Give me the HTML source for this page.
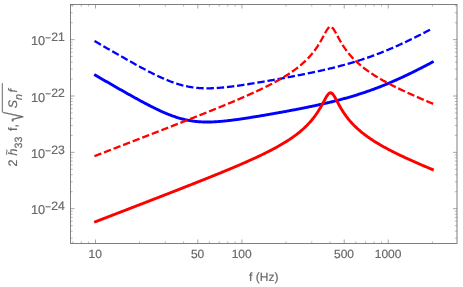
<!DOCTYPE html>
<html><head><meta charset="utf-8"><title>plot</title>
<style>html,body{margin:0;padding:0;background:#fff;}svg{display:block;}text{text-rendering:geometricPrecision;}</style></head>
<body><svg style="will-change:transform" width="463" height="287" viewBox="0 0 463 287">
<rect width="463" height="287" fill="#ffffff"/>

<g fill="none" stroke="#696969" stroke-width="0.85">
<rect x="70.5" y="4.5" width="386.5" height="239.0"/>
<path d="M95.50,243.5v-4.0M95.50,4.5v4.0M197.83,243.5v-4.0M197.83,4.5v4.0M241.90,243.5v-4.0M241.90,4.5v4.0M344.23,243.5v-4.0M344.23,4.5v4.0M388.30,243.5v-4.0M388.30,4.5v4.0M70.5,208.70h4.0M457.0,208.70h-4.0M70.5,152.35h4.0M457.0,152.35h-4.0M70.5,96.00h4.0M457.0,96.00h-4.0M70.5,39.65h4.0M457.0,39.65h-4.0" stroke-width="0.6"/>
<path d="M72.82,243.5v-2.2M72.82,4.5v2.2M81.31,243.5v-2.2M81.31,4.5v2.2M88.80,243.5v-2.2M88.80,4.5v2.2M139.57,243.5v-2.2M139.57,4.5v2.2M165.35,243.5v-2.2M165.35,4.5v2.2M183.64,243.5v-2.2M183.64,4.5v2.2M209.42,243.5v-2.2M209.42,4.5v2.2M219.22,243.5v-2.2M219.22,4.5v2.2M227.71,243.5v-2.2M227.71,4.5v2.2M235.20,243.5v-2.2M235.20,4.5v2.2M285.97,243.5v-2.2M285.97,4.5v2.2M311.75,243.5v-2.2M311.75,4.5v2.2M330.04,243.5v-2.2M330.04,4.5v2.2M355.82,243.5v-2.2M355.82,4.5v2.2M365.62,243.5v-2.2M365.62,4.5v2.2M374.11,243.5v-2.2M374.11,4.5v2.2M381.60,243.5v-2.2M381.60,4.5v2.2M432.37,243.5v-2.2M432.37,4.5v2.2M70.5,238.16h2.2M457.0,238.16h-2.2M70.5,231.12h2.2M457.0,231.12h-2.2M70.5,225.66h2.2M457.0,225.66h-2.2M70.5,221.20h2.2M457.0,221.20h-2.2M70.5,217.43h2.2M457.0,217.43h-2.2M70.5,214.16h2.2M457.0,214.16h-2.2M70.5,211.28h2.2M457.0,211.28h-2.2M70.5,191.74h2.2M457.0,191.74h-2.2M70.5,181.81h2.2M457.0,181.81h-2.2M70.5,174.77h2.2M457.0,174.77h-2.2M70.5,169.31h2.2M457.0,169.31h-2.2M70.5,164.85h2.2M457.0,164.85h-2.2M70.5,161.08h2.2M457.0,161.08h-2.2M70.5,157.81h2.2M457.0,157.81h-2.2M70.5,154.93h2.2M457.0,154.93h-2.2M70.5,135.39h2.2M457.0,135.39h-2.2M70.5,125.46h2.2M457.0,125.46h-2.2M70.5,118.42h2.2M457.0,118.42h-2.2M70.5,112.96h2.2M457.0,112.96h-2.2M70.5,108.50h2.2M457.0,108.50h-2.2M70.5,104.73h2.2M457.0,104.73h-2.2M70.5,101.46h2.2M457.0,101.46h-2.2M70.5,98.58h2.2M457.0,98.58h-2.2M70.5,79.04h2.2M457.0,79.04h-2.2M70.5,69.11h2.2M457.0,69.11h-2.2M70.5,62.07h2.2M457.0,62.07h-2.2M70.5,56.61h2.2M457.0,56.61h-2.2M70.5,52.15h2.2M457.0,52.15h-2.2M70.5,48.38h2.2M457.0,48.38h-2.2M70.5,45.11h2.2M457.0,45.11h-2.2M70.5,42.23h2.2M457.0,42.23h-2.2M70.5,22.69h2.2M457.0,22.69h-2.2M70.5,12.76h2.2M457.0,12.76h-2.2M70.5,5.72h2.2M457.0,5.72h-2.2" stroke-width="0.45"/>
</g>

<g fill="none" stroke-width="2.9" stroke-linejoin="round" stroke-linecap="square">
<path d="M95.50,75.28 L96.34,75.77 L97.19,76.26 L98.03,76.75 L98.88,77.24 L99.72,77.72 L100.57,78.21 L101.41,78.70 L102.25,79.19 L103.10,79.68 L103.94,80.16 L104.79,80.65 L105.63,81.14 L106.48,81.63 L107.32,82.11 L108.16,82.60 L109.01,83.08 L109.85,83.57 L110.70,84.06 L111.54,84.54 L112.39,85.03 L113.23,85.51 L114.07,86.00 L114.92,86.48 L115.76,86.96 L116.61,87.45 L117.45,87.93 L118.30,88.41 L119.14,88.89 L119.98,89.38 L120.83,89.86 L121.67,90.34 L122.52,90.82 L123.36,91.30 L124.21,91.77 L125.05,92.25 L125.89,92.73 L126.74,93.21 L127.58,93.68 L128.43,94.16 L129.27,94.63 L130.12,95.10 L130.96,95.57 L131.80,96.05 L132.65,96.52 L133.49,96.98 L134.34,97.45 L135.18,97.92 L136.03,98.38 L136.87,98.85 L137.71,99.31 L138.56,99.77 L139.40,100.23 L140.25,100.69 L141.09,101.15 L141.94,101.60 L142.78,102.05 L143.62,102.50 L144.47,102.95 L145.31,103.40 L146.16,103.84 L147.00,104.29 L147.85,104.73 L148.69,105.16 L149.53,105.60 L150.38,106.03 L151.22,106.46 L152.07,106.88 L152.91,107.31 L153.76,107.73 L154.60,108.14 L155.44,108.56 L156.29,108.97 L157.13,109.37 L157.98,109.77 L158.82,110.17 L159.67,110.56 L160.51,110.95 L161.35,111.34 L162.20,111.72 L163.04,112.09 L163.89,112.46 L164.73,112.83 L165.58,113.19 L166.42,113.54 L167.26,113.89 L168.11,114.23 L168.95,114.57 L169.80,114.90 L170.64,115.22 L171.49,115.54 L172.33,115.85 L173.17,116.16 L174.02,116.45 L174.86,116.74 L175.71,117.03 L176.55,117.30 L177.40,117.57 L178.24,117.83 L179.08,118.09 L179.93,118.33 L180.77,118.57 L181.62,118.80 L182.46,119.02 L183.31,119.23 L184.15,119.44 L184.99,119.64 L185.84,119.83 L186.68,120.01 L187.53,120.18 L188.37,120.35 L189.22,120.50 L190.06,120.65 L190.90,120.79 L191.75,120.92 L192.59,121.05 L193.44,121.16 L194.28,121.27 L195.13,121.37 L195.97,121.47 L196.81,121.55 L197.66,121.63 L198.50,121.70 L199.35,121.76 L200.19,121.82 L201.04,121.87 L201.88,121.91 L202.72,121.94 L203.57,121.97 L204.41,121.99 L205.26,122.01 L206.10,122.02 L206.95,122.02 L207.79,122.02 L208.63,122.01 L209.48,122.00 L210.32,121.98 L211.17,121.96 L212.01,121.93 L212.86,121.90 L213.70,121.86 L214.54,121.82 L215.39,121.77 L216.23,121.72 L217.08,121.67 L217.92,121.61 L218.77,121.54 L219.61,121.48 L220.45,121.41 L221.30,121.34 L222.14,121.26 L222.99,121.18 L223.83,121.10 L224.68,121.01 L225.52,120.92 L226.36,120.83 L227.21,120.74 L228.05,120.64 L228.90,120.55 L229.74,120.45 L230.59,120.34 L231.43,120.24 L232.27,120.13 L233.12,120.03 L233.96,119.92 L234.81,119.80 L235.65,119.69 L236.50,119.58 L237.34,119.46 L238.18,119.34 L239.03,119.22 L239.87,119.10 L240.72,118.98 L241.56,118.86 L242.41,118.73 L243.25,118.61 L244.09,118.48 L244.94,118.35 L245.78,118.22 L246.63,118.10 L247.47,117.96 L248.32,117.83 L249.16,117.70 L250.00,117.57 L250.85,117.43 L251.69,117.30 L252.54,117.16 L253.38,117.03 L254.23,116.89 L255.07,116.75 L255.91,116.62 L256.76,116.48 L257.60,116.34 L258.45,116.20 L259.29,116.06 L260.14,115.92 L260.98,115.78 L261.82,115.63 L262.67,115.49 L263.51,115.35 L264.36,115.20 L265.20,115.06 L266.05,114.91 L266.89,114.77 L267.73,114.62 L268.58,114.48 L269.42,114.33 L270.27,114.18 L271.11,114.04 L271.96,113.89 L272.80,113.74 L273.64,113.59 L274.49,113.44 L275.33,113.29 L276.18,113.14 L277.02,112.99 L277.87,112.84 L278.71,112.69 L279.55,112.54 L280.40,112.38 L281.24,112.23 L282.09,112.08 L282.93,111.92 L283.78,111.77 L284.62,111.61 L285.46,111.46 L286.31,111.30 L287.15,111.15 L288.00,110.99 L288.84,110.83 L289.69,110.67 L290.53,110.52 L291.37,110.36 L292.22,110.20 L293.06,110.04 L293.91,109.88 L294.75,109.71 L295.60,109.55 L296.44,109.39 L297.28,109.23 L298.13,109.06 L298.97,108.90 L299.82,108.73 L300.66,108.57 L301.51,108.40 L302.35,108.23 L303.19,108.06 L304.04,107.90 L304.88,107.73 L305.73,107.55 L306.57,107.38 L307.42,107.21 L308.26,107.04 L309.10,106.86 L309.95,106.69 L310.79,106.51 L311.64,106.34 L312.48,106.16 L313.33,105.98 L314.17,105.80 L315.01,105.62 L315.86,105.44 L316.70,105.26 L317.55,105.07 L318.39,104.89 L319.24,104.70 L320.08,104.52 L320.92,104.33 L321.77,104.14 L322.61,103.95 L323.46,103.76 L324.30,103.56 L325.15,103.37 L325.99,103.17 L326.83,102.98 L327.68,102.78 L328.52,102.58 L329.37,102.38 L330.21,102.18 L331.06,101.97 L331.90,101.77 L332.74,101.56 L333.59,101.35 L334.43,101.14 L335.28,100.93 L336.12,100.72 L336.97,100.50 L337.81,100.29 L338.65,100.07 L339.50,99.85 L340.34,99.63 L341.19,99.40 L342.03,99.18 L342.88,98.95 L343.72,98.72 L344.56,98.49 L345.41,98.26 L346.25,98.02 L347.10,97.78 L347.94,97.54 L348.79,97.30 L349.63,97.06 L350.47,96.81 L351.32,96.57 L352.16,96.32 L353.01,96.07 L353.85,95.81 L354.70,95.56 L355.54,95.30 L356.38,95.04 L357.23,94.77 L358.07,94.51 L358.92,94.24 L359.76,93.97 L360.61,93.70 L361.45,93.43 L362.29,93.15 L363.14,92.87 L363.98,92.59 L364.83,92.30 L365.67,92.02 L366.52,91.73 L367.36,91.44 L368.20,91.14 L369.05,90.85 L369.89,90.55 L370.74,90.25 L371.58,89.94 L372.43,89.64 L373.27,89.33 L374.11,89.02 L374.96,88.70 L375.80,88.39 L376.65,88.07 L377.49,87.74 L378.34,87.42 L379.18,87.09 L380.02,86.77 L380.87,86.43 L381.71,86.10 L382.56,85.76 L383.40,85.42 L384.25,85.08 L385.09,84.74 L385.93,84.39 L386.78,84.04 L387.62,83.69 L388.47,83.34 L389.31,82.98 L390.16,82.62 L391.00,82.26 L391.84,81.90 L392.69,81.53 L393.53,81.16 L394.38,80.79 L395.22,80.42 L396.07,80.05 L396.91,79.67 L397.75,79.29 L398.60,78.91 L399.44,78.52 L400.29,78.14 L401.13,77.75 L401.98,77.36 L402.82,76.97 L403.67,76.57 L404.51,76.18 L405.35,75.78 L406.20,75.38 L407.04,74.98 L407.89,74.57 L408.73,74.17 L409.58,73.76 L410.42,73.35 L411.26,72.94 L412.11,72.52 L412.95,72.11 L413.80,71.69 L414.64,71.27 L415.49,70.85 L416.33,70.43 L417.17,70.01 L418.02,69.58 L418.86,69.16 L419.71,68.73 L420.55,68.30 L421.40,67.87 L422.24,67.44 L423.08,67.00 L423.93,66.57 L424.77,66.13 L425.62,65.69 L426.46,65.25 L427.31,64.81 L428.15,64.37 L428.99,63.93 L429.84,63.48 L430.68,63.04 L431.53,62.59 L432.37,62.14" stroke="#0000ff"/>
<path d="M95.50,41.58 L96.34,42.07 L97.19,42.56 L98.03,43.05 L98.88,43.54 L99.72,44.02 L100.57,44.51 L101.41,45.00 L102.25,45.49 L103.10,45.98 L103.94,46.46 L104.79,46.95 L105.63,47.44 L106.48,47.93 L107.32,48.41 L108.16,48.90 L109.01,49.38 L109.85,49.87 L110.70,50.36 L111.54,50.84 L112.39,51.33 L113.23,51.81 L114.07,52.30 L114.92,52.78 L115.76,53.26 L116.61,53.75 L117.45,54.23 L118.30,54.71 L119.14,55.19 L119.98,55.68 L120.83,56.16 L121.67,56.64 L122.52,57.12 L123.36,57.60 L124.21,58.07 L125.05,58.55 L125.89,59.03 L126.74,59.51 L127.58,59.98 L128.43,60.46 L129.27,60.93 L130.12,61.40 L130.96,61.87 L131.80,62.35 L132.65,62.82 L133.49,63.28 L134.34,63.75 L135.18,64.22 L136.03,64.68 L136.87,65.15 L137.71,65.61 L138.56,66.07 L139.40,66.53 L140.25,66.99 L141.09,67.45 L141.94,67.90 L142.78,68.35 L143.62,68.80 L144.47,69.25 L145.31,69.70 L146.16,70.14 L147.00,70.59 L147.85,71.03 L148.69,71.46 L149.53,71.90 L150.38,72.33 L151.22,72.76 L152.07,73.18 L152.91,73.61 L153.76,74.03 L154.60,74.44 L155.44,74.86 L156.29,75.27 L157.13,75.67 L157.98,76.07 L158.82,76.47 L159.67,76.86 L160.51,77.25 L161.35,77.64 L162.20,78.02 L163.04,78.39 L163.89,78.76 L164.73,79.13 L165.58,79.49 L166.42,79.84 L167.26,80.19 L168.11,80.53 L168.95,80.87 L169.80,81.20 L170.64,81.52 L171.49,81.84 L172.33,82.15 L173.17,82.46 L174.02,82.75 L174.86,83.04 L175.71,83.33 L176.55,83.60 L177.40,83.87 L178.24,84.13 L179.08,84.39 L179.93,84.63 L180.77,84.87 L181.62,85.10 L182.46,85.32 L183.31,85.53 L184.15,85.74 L184.99,85.94 L185.84,86.13 L186.68,86.31 L187.53,86.48 L188.37,86.65 L189.22,86.80 L190.06,86.95 L190.90,87.09 L191.75,87.22 L192.59,87.35 L193.44,87.46 L194.28,87.57 L195.13,87.67 L195.97,87.77 L196.81,87.85 L197.66,87.93 L198.50,88.00 L199.35,88.06 L200.19,88.12 L201.04,88.17 L201.88,88.21 L202.72,88.24 L203.57,88.27 L204.41,88.29 L205.26,88.31 L206.10,88.32 L206.95,88.32 L207.79,88.32 L208.63,88.31 L209.48,88.30 L210.32,88.28 L211.17,88.26 L212.01,88.23 L212.86,88.20 L213.70,88.16 L214.54,88.12 L215.39,88.07 L216.23,88.02 L217.08,87.97 L217.92,87.91 L218.77,87.84 L219.61,87.78 L220.45,87.71 L221.30,87.64 L222.14,87.56 L222.99,87.48 L223.83,87.40 L224.68,87.31 L225.52,87.22 L226.36,87.13 L227.21,87.04 L228.05,86.94 L228.90,86.85 L229.74,86.75 L230.59,86.64 L231.43,86.54 L232.27,86.43 L233.12,86.33 L233.96,86.22 L234.81,86.10 L235.65,85.99 L236.50,85.88 L237.34,85.76 L238.18,85.64 L239.03,85.52 L239.87,85.40 L240.72,85.28 L241.56,85.16 L242.41,85.03 L243.25,84.91 L244.09,84.78 L244.94,84.65 L245.78,84.52 L246.63,84.40 L247.47,84.26 L248.32,84.13 L249.16,84.00 L250.00,83.87 L250.85,83.73 L251.69,83.60 L252.54,83.46 L253.38,83.33 L254.23,83.19 L255.07,83.05 L255.91,82.92 L256.76,82.78 L257.60,82.64 L258.45,82.50 L259.29,82.36 L260.14,82.22 L260.98,82.08 L261.82,81.93 L262.67,81.79 L263.51,81.65 L264.36,81.50 L265.20,81.36 L266.05,81.21 L266.89,81.07 L267.73,80.92 L268.58,80.78 L269.42,80.63 L270.27,80.48 L271.11,80.34 L271.96,80.19 L272.80,80.04 L273.64,79.89 L274.49,79.74 L275.33,79.59 L276.18,79.44 L277.02,79.29 L277.87,79.14 L278.71,78.99 L279.55,78.84 L280.40,78.68 L281.24,78.53 L282.09,78.38 L282.93,78.22 L283.78,78.07 L284.62,77.91 L285.46,77.76 L286.31,77.60 L287.15,77.45 L288.00,77.29 L288.84,77.13 L289.69,76.97 L290.53,76.82 L291.37,76.66 L292.22,76.50 L293.06,76.34 L293.91,76.18 L294.75,76.01 L295.60,75.85 L296.44,75.69 L297.28,75.53 L298.13,75.36 L298.97,75.20 L299.82,75.03 L300.66,74.87 L301.51,74.70 L302.35,74.53 L303.19,74.36 L304.04,74.20 L304.88,74.03 L305.73,73.85 L306.57,73.68 L307.42,73.51 L308.26,73.34 L309.10,73.16 L309.95,72.99 L310.79,72.81 L311.64,72.64 L312.48,72.46 L313.33,72.28 L314.17,72.10 L315.01,71.92 L315.86,71.74 L316.70,71.56 L317.55,71.37 L318.39,71.19 L319.24,71.00 L320.08,70.82 L320.92,70.63 L321.77,70.44 L322.61,70.25 L323.46,70.06 L324.30,69.86 L325.15,69.67 L325.99,69.47 L326.83,69.28 L327.68,69.08 L328.52,68.88 L329.37,68.68 L330.21,68.48 L331.06,68.27 L331.90,68.07 L332.74,67.86 L333.59,67.65 L334.43,67.44 L335.28,67.23 L336.12,67.02 L336.97,66.80 L337.81,66.59 L338.65,66.37 L339.50,66.15 L340.34,65.93 L341.19,65.70 L342.03,65.48 L342.88,65.25 L343.72,65.02 L344.56,64.79 L345.41,64.56 L346.25,64.32 L347.10,64.08 L347.94,63.84 L348.79,63.60 L349.63,63.36 L350.47,63.11 L351.32,62.87 L352.16,62.62 L353.01,62.37 L353.85,62.11 L354.70,61.86 L355.54,61.60 L356.38,61.34 L357.23,61.07 L358.07,60.81 L358.92,60.54 L359.76,60.27 L360.61,60.00 L361.45,59.73 L362.29,59.45 L363.14,59.17 L363.98,58.89 L364.83,58.60 L365.67,58.32 L366.52,58.03 L367.36,57.74 L368.20,57.44 L369.05,57.15 L369.89,56.85 L370.74,56.55 L371.58,56.24 L372.43,55.94 L373.27,55.63 L374.11,55.32 L374.96,55.00 L375.80,54.69 L376.65,54.37 L377.49,54.04 L378.34,53.72 L379.18,53.39 L380.02,53.07 L380.87,52.73 L381.71,52.40 L382.56,52.06 L383.40,51.72 L384.25,51.38 L385.09,51.04 L385.93,50.69 L386.78,50.34 L387.62,49.99 L388.47,49.64 L389.31,49.28 L390.16,48.92 L391.00,48.56 L391.84,48.20 L392.69,47.83 L393.53,47.46 L394.38,47.09 L395.22,46.72 L396.07,46.35 L396.91,45.97 L397.75,45.59 L398.60,45.21 L399.44,44.82 L400.29,44.44 L401.13,44.05 L401.98,43.66 L402.82,43.27 L403.67,42.87 L404.51,42.48 L405.35,42.08 L406.20,41.68 L407.04,41.28 L407.89,40.87 L408.73,40.47 L409.58,40.06 L410.42,39.65 L411.26,39.24 L412.11,38.82 L412.95,38.41 L413.80,37.99 L414.64,37.57 L415.49,37.15 L416.33,36.73 L417.17,36.31 L418.02,35.88 L418.86,35.46 L419.71,35.03 L420.55,34.60 L421.40,34.17 L422.24,33.74 L423.08,33.30 L423.93,32.87 L424.77,32.43 L425.62,31.99 L426.46,31.55 L427.31,31.11 L428.15,30.67 L428.99,30.23 L429.84,29.78 L430.68,29.34 L431.53,28.89 L432.37,28.44" stroke="#0000ff" stroke-width="2.3" stroke-dasharray="5.125 5.125"/>
<path d="M95.50,221.73 L96.34,221.40 L97.19,221.08 L98.03,220.75 L98.88,220.43 L99.72,220.10 L100.57,219.78 L101.41,219.45 L102.25,219.12 L103.10,218.80 L103.94,218.47 L104.79,218.15 L105.63,217.82 L106.48,217.50 L107.32,217.17 L108.16,216.85 L109.01,216.52 L109.85,216.19 L110.70,215.87 L111.54,215.54 L112.39,215.22 L113.23,214.89 L114.07,214.57 L114.92,214.24 L115.76,213.92 L116.61,213.59 L117.45,213.26 L118.30,212.94 L119.14,212.61 L119.98,212.29 L120.83,211.96 L121.67,211.63 L122.52,211.31 L123.36,210.98 L124.21,210.66 L125.05,210.33 L125.89,210.00 L126.74,209.68 L127.58,209.35 L128.43,209.03 L129.27,208.70 L130.12,208.37 L130.96,208.05 L131.80,207.72 L132.65,207.40 L133.49,207.07 L134.34,206.74 L135.18,206.42 L136.03,206.09 L136.87,205.76 L137.71,205.44 L138.56,205.11 L139.40,204.79 L140.25,204.46 L141.09,204.13 L141.94,203.81 L142.78,203.48 L143.62,203.15 L144.47,202.83 L145.31,202.50 L146.16,202.17 L147.00,201.84 L147.85,201.52 L148.69,201.19 L149.53,200.86 L150.38,200.54 L151.22,200.21 L152.07,199.88 L152.91,199.55 L153.76,199.23 L154.60,198.90 L155.44,198.57 L156.29,198.24 L157.13,197.92 L157.98,197.59 L158.82,197.26 L159.67,196.93 L160.51,196.61 L161.35,196.28 L162.20,195.95 L163.04,195.62 L163.89,195.29 L164.73,194.96 L165.58,194.64 L166.42,194.31 L167.26,193.98 L168.11,193.65 L168.95,193.32 L169.80,192.99 L170.64,192.66 L171.49,192.33 L172.33,192.00 L173.17,191.67 L174.02,191.35 L174.86,191.02 L175.71,190.69 L176.55,190.36 L177.40,190.03 L178.24,189.70 L179.08,189.36 L179.93,189.03 L180.77,188.70 L181.62,188.37 L182.46,188.04 L183.31,187.71 L184.15,187.38 L184.99,187.05 L185.84,186.72 L186.68,186.38 L187.53,186.05 L188.37,185.72 L189.22,185.39 L190.06,185.06 L190.90,184.72 L191.75,184.39 L192.59,184.06 L193.44,183.72 L194.28,183.39 L195.13,183.05 L195.97,182.72 L196.81,182.39 L197.66,182.05 L198.50,181.72 L199.35,181.38 L200.19,181.05 L201.04,180.71 L201.88,180.37 L202.72,180.04 L203.57,179.70 L204.41,179.36 L205.26,179.03 L206.10,178.69 L206.95,178.35 L207.79,178.01 L208.63,177.67 L209.48,177.33 L210.32,176.99 L211.17,176.65 L212.01,176.31 L212.86,175.97 L213.70,175.63 L214.54,175.29 L215.39,174.95 L216.23,174.60 L217.08,174.26 L217.92,173.92 L218.77,173.57 L219.61,173.23 L220.45,172.88 L221.30,172.54 L222.14,172.19 L222.99,171.84 L223.83,171.50 L224.68,171.15 L225.52,170.80 L226.36,170.45 L227.21,170.10 L228.05,169.75 L228.90,169.40 L229.74,169.05 L230.59,168.69 L231.43,168.34 L232.27,167.98 L233.12,167.63 L233.96,167.27 L234.81,166.91 L235.65,166.56 L236.50,166.20 L237.34,165.84 L238.18,165.48 L239.03,165.11 L239.87,164.75 L240.72,164.39 L241.56,164.02 L242.41,163.65 L243.25,163.29 L244.09,162.92 L244.94,162.55 L245.78,162.17 L246.63,161.80 L247.47,161.43 L248.32,161.05 L249.16,160.67 L250.00,160.29 L250.85,159.91 L251.69,159.53 L252.54,159.15 L253.38,158.76 L254.23,158.38 L255.07,157.99 L255.91,157.60 L256.76,157.20 L257.60,156.81 L258.45,156.41 L259.29,156.01 L260.14,155.61 L260.98,155.21 L261.82,154.80 L262.67,154.39 L263.51,153.98 L264.36,153.57 L265.20,153.15 L266.05,152.73 L266.89,152.31 L267.73,151.89 L268.58,151.46 L269.42,151.03 L270.27,150.59 L271.11,150.16 L271.96,149.72 L272.80,149.27 L273.64,148.82 L274.49,148.37 L275.33,147.91 L276.18,147.45 L277.02,146.99 L277.87,146.52 L278.71,146.04 L279.55,145.56 L280.40,145.08 L281.24,144.59 L282.09,144.09 L282.93,143.59 L283.78,143.08 L284.62,142.57 L285.46,142.05 L286.31,141.52 L287.15,140.99 L288.00,140.44 L288.84,139.90 L289.69,139.34 L290.53,138.77 L291.37,138.20 L292.22,137.62 L293.06,137.02 L293.91,136.42 L294.75,135.81 L295.60,135.18 L296.44,134.55 L297.28,133.90 L298.13,133.24 L298.97,132.56 L299.82,131.88 L300.66,131.17 L301.51,130.46 L302.35,129.72 L303.19,128.97 L304.04,128.20 L304.88,127.41 L305.73,126.60 L306.57,125.77 L307.42,124.91 L308.26,124.03 L309.10,123.13 L309.95,122.20 L310.79,121.24 L311.64,120.25 L312.48,119.22 L313.33,118.16 L314.17,117.07 L315.01,115.93 L315.86,114.76 L316.70,113.54 L317.55,112.27 L318.39,110.96 L319.24,109.60 L320.08,108.19 L320.92,106.74 L321.77,105.24 L322.61,103.70 L323.46,102.14 L324.30,100.56 L325.15,99.00 L325.99,97.50 L326.83,96.10 L327.68,94.86 L328.52,93.85 L329.37,93.16 L330.21,92.82 L331.06,92.89 L331.90,93.34 L332.74,94.14 L333.59,95.23 L334.43,96.53 L335.28,97.97 L336.12,99.50 L336.97,101.06 L337.81,102.64 L338.65,104.19 L339.50,105.72 L340.34,107.20 L341.19,108.64 L342.03,110.04 L342.88,111.38 L343.72,112.68 L344.56,113.93 L345.41,115.13 L346.25,116.30 L347.10,117.42 L347.94,118.50 L348.79,119.55 L349.63,120.56 L350.47,121.55 L351.32,122.50 L352.16,123.42 L353.01,124.32 L353.85,125.19 L354.70,126.03 L355.54,126.86 L356.38,127.66 L357.23,128.45 L358.07,129.21 L358.92,129.96 L359.76,130.69 L360.61,131.40 L361.45,132.10 L362.29,132.78 L363.14,133.45 L363.98,134.11 L364.83,134.75 L365.67,135.38 L366.52,136.00 L367.36,136.61 L368.20,137.21 L369.05,137.80 L369.89,138.38 L370.74,138.95 L371.58,139.52 L372.43,140.07 L373.27,140.62 L374.11,141.16 L374.96,141.69 L375.80,142.21 L376.65,142.73 L377.49,143.24 L378.34,143.75 L379.18,144.25 L380.02,144.74 L380.87,145.23 L381.71,145.71 L382.56,146.19 L383.40,146.67 L384.25,147.13 L385.09,147.60 L385.93,148.06 L386.78,148.51 L387.62,148.96 L388.47,149.41 L389.31,149.86 L390.16,150.30 L391.00,150.73 L391.84,151.17 L392.69,151.60 L393.53,152.02 L394.38,152.45 L395.22,152.87 L396.07,153.29 L396.91,153.70 L397.75,154.11 L398.60,154.52 L399.44,154.93 L400.29,155.34 L401.13,155.74 L401.98,156.14 L402.82,156.54 L403.67,156.93 L404.51,157.33 L405.35,157.72 L406.20,158.11 L407.04,158.50 L407.89,158.89 L408.73,159.27 L409.58,159.65 L410.42,160.04 L411.26,160.42 L412.11,160.79 L412.95,161.17 L413.80,161.55 L414.64,161.92 L415.49,162.29 L416.33,162.66 L417.17,163.03 L418.02,163.40 L418.86,163.77 L419.71,164.14 L420.55,164.50 L421.40,164.87 L422.24,165.23 L423.08,165.59 L423.93,165.95 L424.77,166.31 L425.62,166.67 L426.46,167.03 L427.31,167.38 L428.15,167.74 L428.99,168.10 L429.84,168.45 L430.68,168.80 L431.53,169.16 L432.37,169.51" stroke="#ff0000"/>
<path d="M95.50,155.73 L96.34,155.40 L97.19,155.08 L98.03,154.75 L98.88,154.43 L99.72,154.10 L100.57,153.78 L101.41,153.45 L102.25,153.12 L103.10,152.80 L103.94,152.47 L104.79,152.15 L105.63,151.82 L106.48,151.50 L107.32,151.17 L108.16,150.85 L109.01,150.52 L109.85,150.19 L110.70,149.87 L111.54,149.54 L112.39,149.22 L113.23,148.89 L114.07,148.57 L114.92,148.24 L115.76,147.92 L116.61,147.59 L117.45,147.26 L118.30,146.94 L119.14,146.61 L119.98,146.29 L120.83,145.96 L121.67,145.63 L122.52,145.31 L123.36,144.98 L124.21,144.66 L125.05,144.33 L125.89,144.00 L126.74,143.68 L127.58,143.35 L128.43,143.03 L129.27,142.70 L130.12,142.37 L130.96,142.05 L131.80,141.72 L132.65,141.40 L133.49,141.07 L134.34,140.74 L135.18,140.42 L136.03,140.09 L136.87,139.76 L137.71,139.44 L138.56,139.11 L139.40,138.79 L140.25,138.46 L141.09,138.13 L141.94,137.81 L142.78,137.48 L143.62,137.15 L144.47,136.83 L145.31,136.50 L146.16,136.17 L147.00,135.84 L147.85,135.52 L148.69,135.19 L149.53,134.86 L150.38,134.54 L151.22,134.21 L152.07,133.88 L152.91,133.55 L153.76,133.23 L154.60,132.90 L155.44,132.57 L156.29,132.24 L157.13,131.92 L157.98,131.59 L158.82,131.26 L159.67,130.93 L160.51,130.61 L161.35,130.28 L162.20,129.95 L163.04,129.62 L163.89,129.29 L164.73,128.96 L165.58,128.64 L166.42,128.31 L167.26,127.98 L168.11,127.65 L168.95,127.32 L169.80,126.99 L170.64,126.66 L171.49,126.33 L172.33,126.00 L173.17,125.67 L174.02,125.35 L174.86,125.02 L175.71,124.69 L176.55,124.36 L177.40,124.03 L178.24,123.70 L179.08,123.36 L179.93,123.03 L180.77,122.70 L181.62,122.37 L182.46,122.04 L183.31,121.71 L184.15,121.38 L184.99,121.05 L185.84,120.72 L186.68,120.38 L187.53,120.05 L188.37,119.72 L189.22,119.39 L190.06,119.06 L190.90,118.72 L191.75,118.39 L192.59,118.06 L193.44,117.72 L194.28,117.39 L195.13,117.05 L195.97,116.72 L196.81,116.39 L197.66,116.05 L198.50,115.72 L199.35,115.38 L200.19,115.05 L201.04,114.71 L201.88,114.37 L202.72,114.04 L203.57,113.70 L204.41,113.36 L205.26,113.03 L206.10,112.69 L206.95,112.35 L207.79,112.01 L208.63,111.67 L209.48,111.33 L210.32,110.99 L211.17,110.65 L212.01,110.31 L212.86,109.97 L213.70,109.63 L214.54,109.29 L215.39,108.95 L216.23,108.60 L217.08,108.26 L217.92,107.92 L218.77,107.57 L219.61,107.23 L220.45,106.88 L221.30,106.54 L222.14,106.19 L222.99,105.84 L223.83,105.50 L224.68,105.15 L225.52,104.80 L226.36,104.45 L227.21,104.10 L228.05,103.75 L228.90,103.40 L229.74,103.05 L230.59,102.69 L231.43,102.34 L232.27,101.98 L233.12,101.63 L233.96,101.27 L234.81,100.91 L235.65,100.56 L236.50,100.20 L237.34,99.84 L238.18,99.48 L239.03,99.11 L239.87,98.75 L240.72,98.39 L241.56,98.02 L242.41,97.65 L243.25,97.29 L244.09,96.92 L244.94,96.55 L245.78,96.17 L246.63,95.80 L247.47,95.43 L248.32,95.05 L249.16,94.67 L250.00,94.29 L250.85,93.91 L251.69,93.53 L252.54,93.15 L253.38,92.76 L254.23,92.38 L255.07,91.99 L255.91,91.60 L256.76,91.20 L257.60,90.81 L258.45,90.41 L259.29,90.01 L260.14,89.61 L260.98,89.21 L261.82,88.80 L262.67,88.39 L263.51,87.98 L264.36,87.57 L265.20,87.15 L266.05,86.73 L266.89,86.31 L267.73,85.89 L268.58,85.46 L269.42,85.03 L270.27,84.59 L271.11,84.16 L271.96,83.72 L272.80,83.27 L273.64,82.82 L274.49,82.37 L275.33,81.91 L276.18,81.45 L277.02,80.99 L277.87,80.52 L278.71,80.04 L279.55,79.56 L280.40,79.08 L281.24,78.59 L282.09,78.09 L282.93,77.59 L283.78,77.08 L284.62,76.57 L285.46,76.05 L286.31,75.52 L287.15,74.99 L288.00,74.44 L288.84,73.90 L289.69,73.34 L290.53,72.77 L291.37,72.20 L292.22,71.62 L293.06,71.02 L293.91,70.42 L294.75,69.81 L295.60,69.18 L296.44,68.55 L297.28,67.90 L298.13,67.24 L298.97,66.56 L299.82,65.88 L300.66,65.17 L301.51,64.46 L302.35,63.72 L303.19,62.97 L304.04,62.20 L304.88,61.41 L305.73,60.60 L306.57,59.77 L307.42,58.91 L308.26,58.03 L309.10,57.13 L309.95,56.20 L310.79,55.24 L311.64,54.25 L312.48,53.22 L313.33,52.16 L314.17,51.07 L315.01,49.93 L315.86,48.76 L316.70,47.54 L317.55,46.27 L318.39,44.96 L319.24,43.60 L320.08,42.19 L320.92,40.74 L321.77,39.24 L322.61,37.70 L323.46,36.14 L324.30,34.56 L325.15,33.00 L325.99,31.50 L326.83,30.10 L327.68,28.86 L328.52,27.85 L329.37,27.16 L330.21,26.82 L331.06,26.89 L331.90,27.34 L332.74,28.14 L333.59,29.23 L334.43,30.53 L335.28,31.97 L336.12,33.50 L336.97,35.06 L337.81,36.64 L338.65,38.19 L339.50,39.72 L340.34,41.20 L341.19,42.64 L342.03,44.04 L342.88,45.38 L343.72,46.68 L344.56,47.93 L345.41,49.13 L346.25,50.30 L347.10,51.42 L347.94,52.50 L348.79,53.55 L349.63,54.56 L350.47,55.55 L351.32,56.50 L352.16,57.42 L353.01,58.32 L353.85,59.19 L354.70,60.03 L355.54,60.86 L356.38,61.66 L357.23,62.45 L358.07,63.21 L358.92,63.96 L359.76,64.69 L360.61,65.40 L361.45,66.10 L362.29,66.78 L363.14,67.45 L363.98,68.11 L364.83,68.75 L365.67,69.38 L366.52,70.00 L367.36,70.61 L368.20,71.21 L369.05,71.80 L369.89,72.38 L370.74,72.95 L371.58,73.52 L372.43,74.07 L373.27,74.62 L374.11,75.16 L374.96,75.69 L375.80,76.21 L376.65,76.73 L377.49,77.24 L378.34,77.75 L379.18,78.25 L380.02,78.74 L380.87,79.23 L381.71,79.71 L382.56,80.19 L383.40,80.67 L384.25,81.13 L385.09,81.60 L385.93,82.06 L386.78,82.51 L387.62,82.96 L388.47,83.41 L389.31,83.86 L390.16,84.30 L391.00,84.73 L391.84,85.17 L392.69,85.60 L393.53,86.02 L394.38,86.45 L395.22,86.87 L396.07,87.29 L396.91,87.70 L397.75,88.11 L398.60,88.52 L399.44,88.93 L400.29,89.34 L401.13,89.74 L401.98,90.14 L402.82,90.54 L403.67,90.93 L404.51,91.33 L405.35,91.72 L406.20,92.11 L407.04,92.50 L407.89,92.89 L408.73,93.27 L409.58,93.65 L410.42,94.04 L411.26,94.42 L412.11,94.79 L412.95,95.17 L413.80,95.55 L414.64,95.92 L415.49,96.29 L416.33,96.66 L417.17,97.03 L418.02,97.40 L418.86,97.77 L419.71,98.14 L420.55,98.50 L421.40,98.87 L422.24,99.23 L423.08,99.59 L423.93,99.95 L424.77,100.31 L425.62,100.67 L426.46,101.03 L427.31,101.38 L428.15,101.74 L428.99,102.10 L429.84,102.45 L430.68,102.80 L431.53,103.16 L432.37,103.51" stroke="#ff0000" stroke-width="2.3" stroke-dasharray="5.125 5.125"/>
</g>
<g font-family="Liberation Sans, Arial, sans-serif" font-size="12" fill="#696969" stroke="#696969" stroke-width="0.2"><text x="95.30" y="258.0" text-anchor="middle">10</text>
<text x="197.63" y="258.0" text-anchor="middle">50</text>
<text x="241.70" y="258.0" text-anchor="middle">100</text>
<text x="344.03" y="258.0" text-anchor="middle">500</text>
<text x="388.10" y="258.0" text-anchor="middle">1000</text>
<text x="31.0" y="45.30" font-size="12.8">10</text><text x="45.2" y="40.85" font-size="9.8">−</text><text x="51.3" y="40.85" font-size="12.2">21</text>
<text x="31.0" y="101.65" font-size="12.8">10</text><text x="45.2" y="97.20" font-size="9.8">−</text><text x="51.3" y="97.20" font-size="12.2">22</text>
<text x="31.0" y="158.00" font-size="12.8">10</text><text x="45.2" y="153.55" font-size="9.8">−</text><text x="51.3" y="153.55" font-size="12.2">23</text>
<text x="31.0" y="214.35" font-size="12.8">10</text><text x="45.2" y="209.90" font-size="9.8">−</text><text x="51.3" y="209.90" font-size="12.2">24</text>
<text x="263.75" y="281" text-anchor="middle">f (Hz)</text></g>

<g transform="translate(17.4,166.5) rotate(-90)" font-family="Liberation Sans, Arial, sans-serif" font-size="12.4" fill="#696969" stroke="#696969" stroke-width="0.2">
<text x="0" y="0">2</text>
<text x="11" y="0" font-style="italic">h</text>
<text x="11.3" y="-7.7" font-size="10">~</text>
<text x="18" y="4.2" font-size="10.6">33</text>
<text x="35.6" y="0">f,</text>
<text transform="translate(44.85,5.1) scale(1,1.406)" x="0" y="0" font-size="18">√</text>
<line x1="54.2" y1="-15.1" x2="83.4" y2="-15.1" stroke="#696969" stroke-width="1"/>
<text x="58.3" y="0" font-style="italic">S</text>
<text x="66.6" y="4.2" font-size="10.8" font-style="italic">n</text>
<text x="73.9" y="0" font-style="italic">f</text>
</g>
</svg></body></html>
